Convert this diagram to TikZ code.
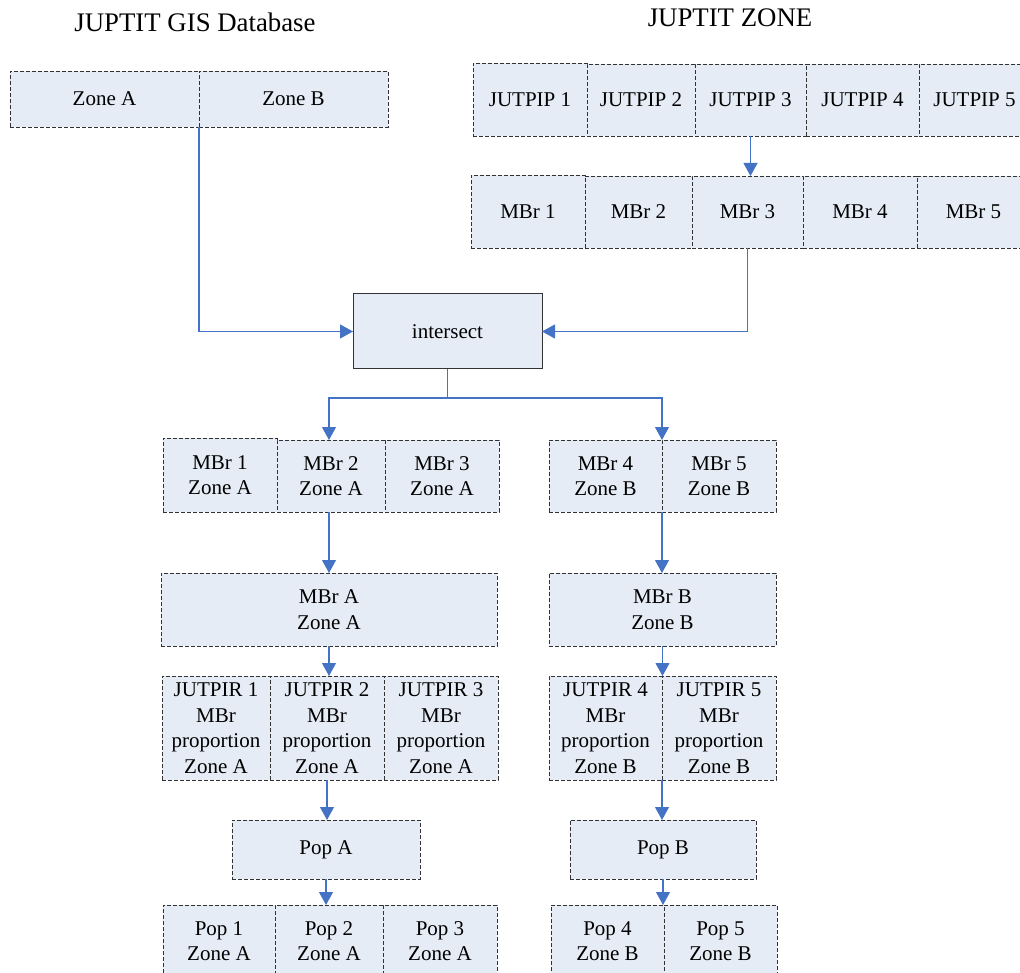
\documentclass[tikz,border=0pt]{standalone}
\usepackage{fontspec}
\setmainfont{Liberation Serif}
\usetikzlibrary{arrows.meta}
\definecolor{cellfill}{RGB}{230,236,246}
\definecolor{linkblue}{RGB}{68,114,196}
\definecolor{cellline}{RGB}{50,50,50}

\begin{document}
\begin{tikzpicture}[x=1pt, y=-1pt,
  every node/.style={inner sep=0pt, outer sep=0pt, align=center, font=\fontsize{21}{25.5}\selectfont},
  heading/.style={font=\fontsize{26.8}{30}\selectfont},
  cell/.style={draw=cellline, fill=cellfill, dash pattern=on 4pt off 2pt, line width=0.9pt},
  link/.style={draw=linkblue, line width=1.1pt, -{Triangle[width=14pt,length=13pt]}}]
\useasboundingbox (0,0) rectangle (1020,973);

\node[heading] (gisTitle) at (195,22) {JUPTIT GIS Database};
\node[heading] (zoneTitle) at (730,18) {JUPTIT ZONE};

\node[cell, minimum width=189pt, minimum height=56pt] (zA) at (104.5,99) {Zone A};
\node[cell, minimum width=189pt, minimum height=56pt] (zB) at (293.5,99) {Zone B};

\node[cell, minimum width=114pt, minimum height=73pt] (pip1) at (530,99.5) {JUTPIP 1};
\node[cell, minimum width=108pt, minimum height=72pt] (pip2) at (641,100) {JUTPIP 2};
\node[cell, minimum width=111pt, minimum height=72pt] (pip3) at (750.5,100) {JUTPIP 3};
\node[cell, minimum width=113pt, minimum height=72pt] (pip4) at (862.5,100) {JUTPIP 4};
\node[cell, minimum width=111pt, minimum height=72pt] (pip5) at (974.5,100) {JUTPIP 5};

\node[cell, minimum width=114pt, minimum height=73pt] (mbr1) at (528,211.5) {MBr 1};
\node[cell, minimum width=107pt, minimum height=72pt] (mbr2) at (638.5,212) {MBr 2};
\node[cell, minimum width=111pt, minimum height=72pt] (mbr3) at (747.5,212) {MBr 3};
\node[cell, minimum width=114pt, minimum height=72pt] (mbr4) at (860,212) {MBr 4};
\node[cell, minimum width=113pt, minimum height=72pt] (mbr5) at (973.5,212) {MBr 5};

\node[draw=black!80, fill=cellfill, line width=1pt, minimum width=189pt, minimum height=75pt] (isect) at (447.5,331.5) {intersect};

\node[cell, minimum width=114pt, minimum height=74pt] (mzA1) at (220,475) {MBr 1\\Zone A};
\node[cell, minimum width=108pt, minimum height=72pt] (mzA2) at (331,476) {MBr 2\\Zone A};
\node[cell, minimum width=114pt, minimum height=72pt] (mzA3) at (442,476) {MBr 3\\Zone A};
\node[cell, minimum width=113pt, minimum height=72pt] (mzB4) at (605.5,476) {MBr 4\\Zone B};
\node[cell, minimum width=114pt, minimum height=72pt] (mzB5) at (719,476) {MBr 5\\Zone B};

\node[cell, minimum width=336pt, minimum height=73pt] (mbrA) at (329,609.5) {MBr A\\Zone A};
\node[cell, minimum width=227pt, minimum height=73pt] (mbrB) at (662.5,609.5) {MBr B\\Zone B};

\node[cell, minimum width=108pt, minimum height=104pt] (pir1) at (216,728) {JUTPIR 1\\MBr\\proportion\\Zone A};
\node[cell, minimum width=114pt, minimum height=104pt] (pir2) at (327,728) {JUTPIR 2\\MBr\\proportion\\Zone A};
\node[cell, minimum width=114pt, minimum height=104pt] (pir3) at (441,728) {JUTPIR 3\\MBr\\proportion\\Zone A};
\node[cell, minimum width=113pt, minimum height=104pt] (pir4) at (605.5,728) {JUTPIR 4\\MBr\\proportion\\Zone B};
\node[cell, minimum width=114pt, minimum height=104pt] (pir5) at (719,728) {JUTPIR 5\\MBr\\proportion\\Zone B};

\node[cell, minimum width=188pt, minimum height=59pt] (popA) at (326,849.5) {Pop A};
\node[cell, minimum width=186pt, minimum height=59pt] (popB) at (663,849.5) {Pop B};

\node[cell, minimum width=112pt, minimum height=72pt] (pop1) at (219,941) {Pop 1\\Zone A};
\node[cell, minimum width=108pt, minimum height=72pt] (pop2) at (329,941) {Pop 2\\Zone A};
\node[cell, minimum width=114pt, minimum height=72pt] (pop3) at (440,941) {Pop 3\\Zone A};
\node[cell, minimum width=113pt, minimum height=72pt] (pop4) at (607.5,941) {Pop 4\\Zone B};
\node[cell, minimum width=113pt, minimum height=72pt] (pop5) at (720.5,941) {Pop 5\\Zone B};

\coordinate (split) at (447.5,398);

\draw[link] (pip3.south) -- (pip3.south |- mbr3.north);
\draw[link] (zA.south east) |- (isect.west);
\draw[link] (mbr3.south) |- (isect.east);
\draw[link] (isect.south) -- (split) -| (mbrA.north |- mzA2.north);
\draw[link] (split) -| (mzB4.north east);
\draw[link] (mbrA.north |- mzA2.south) -- (mbrA.north);
\draw[link] (mzB4.south east) -- (mzB4.south east |- mbrB.north);
\draw[link] (mbrA.south) -- (mbrA.south |- pir2.north);
\draw[link] (mbrB.south) -- (mbrB.south |- pir4.north);
\draw[link] (pir2.south) -- (pir2.south |- popA.north);
\draw[link] (pir4.south east) -- (pir4.south east |- popB.north);
\draw[link] (popA.south) -- (popA.south |- pop2.north);
\draw[link] (popB.south) -- (popB.south |- pop4.north);
\end{tikzpicture}
\end{document}
